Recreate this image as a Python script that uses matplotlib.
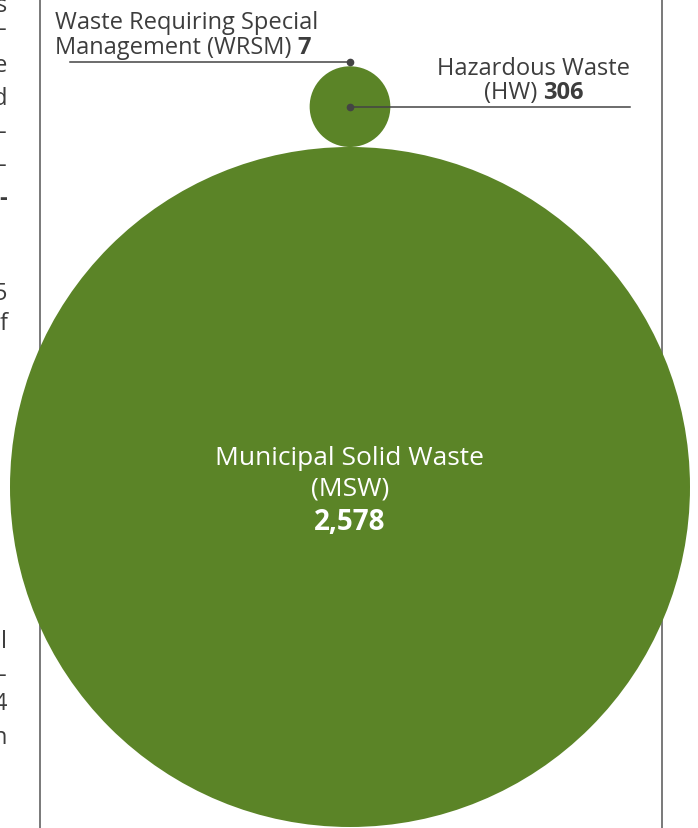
import matplotlib.pyplot as plt
from matplotlib.patches import Circle

plt.rcParams['font.family'] = ['Open Sans', 'DejaVu Sans']

# waste generated by type
names = ["Municipal Solid Waste\n(MSW)", "Hazardous Waste\n(HW)", "Waste Requiring Special\nManagement (WRSM)"]
values = [2578, 306, 7]
value_labels = ["2,578", "306", "7"]

# bits of the neighbouring column of text that show at the left edge
edge_chars = ["s", "-", "e", "d", "-", "-", "-", "5", "f", "l", "-", "4", "n"]
edge_y = [12, 36, 72, 105, 139, 172, 205, 300, 330, 648, 682, 710, 744]

green = '#5b8427'
ink = '#3d3d3d'
W, H = 698, 829

fig = plt.figure(figsize=(W / 100, H / 100), dpi=100)
ax = fig.add_axes([0, 0, 1, 1])
ax.set_xlim(0, W)
ax.set_ylim(H, 0)
ax.set_aspect('equal')
ax.axis('off')

# page column rules
for x in (40, 662):
    ax.plot([x, x], [0, H], color='#555555', lw=1.1, zorder=0)

for ch, y in zip(edge_chars, edge_y):
    bold = 'bold' if y == 205 else 'normal'
    ax.text(7, y, ch, ha='right', va='baseline', fontsize=17, color=ink, fontweight=bold)

# radius proportional to value, circles stacked on a common bottom
scale = 340 / values[0]
radii = [v * scale for v in values]
cx = 350
centers = []
top = H - 1
for r in radii:
    cy = top - r
    centers.append(cy)
    ax.add_patch(Circle((cx, cy), r, color=green, lw=0, zorder=2))
    top = cy - r

fs = 17
fs_big = 19
fig.canvas.draw()
renderer = fig.canvas.get_renderer()


def text_width(s, weight):
    t = ax.text(0, 0, s, fontsize=fs, fontweight=weight)
    bb = t.get_window_extent(renderer)
    t.remove()
    return bb.width


# MSW label inside the big circle
msw_y = centers[0]
ax.text(cx, msw_y - 23, names[0].split('\n')[0], ha='center', va='baseline', fontsize=fs_big, color='white', zorder=3)
ax.text(cx, msw_y + 7, names[0].split('\n')[1], ha='center', va='baseline', fontsize=fs_big, color='white', zorder=3)
ax.text(cx, msw_y + 42, value_labels[0], ha='center', va='baseline', fontsize=fs_big + 1, color='white',
        fontweight='bold', zorder=3)

# HW leader line and label
hw_y = centers[1]
ax.plot([cx, 630], [hw_y, hw_y], color='#444444', lw=1.1, zorder=4)
ax.plot(cx, hw_y, 'o', color='#444444', ms=4.5, zorder=5)
hw_cx = 534
ax.text(hw_cx, 75, names[1].split('\n')[0], ha='center', va='baseline', fontsize=fs, color=ink)
part1 = names[1].split('\n')[1] + ' '
w1 = text_width(part1, 'normal')
w2 = text_width(value_labels[1], 'bold')
x0 = hw_cx - (w1 + w2) / 2
ax.text(x0, 99, part1, ha='left', va='baseline', fontsize=fs, color=ink)
ax.text(x0 + w1, 99, value_labels[1], ha='left', va='baseline', fontsize=fs, color=ink, fontweight='bold')

# WRSM leader line and label
wr_y = centers[2] - 3
ax.plot([70, cx], [wr_y, wr_y], color='#444444', lw=1.1, zorder=4)
ax.plot(cx, wr_y, 'o', color='#444444', ms=4.5, zorder=5)
ax.text(55, 29, names[2].split('\n')[0], ha='left', va='baseline', fontsize=fs, color=ink)
part1 = names[2].split('\n')[1] + ' '
w1 = text_width(part1, 'normal')
ax.text(55, 54, part1, ha='left', va='baseline', fontsize=fs, color=ink)
ax.text(55 + w1, 54, value_labels[2], ha='left', va='baseline', fontsize=fs, color=ink, fontweight='bold')

fig.savefig('out.png', dpi=100)
